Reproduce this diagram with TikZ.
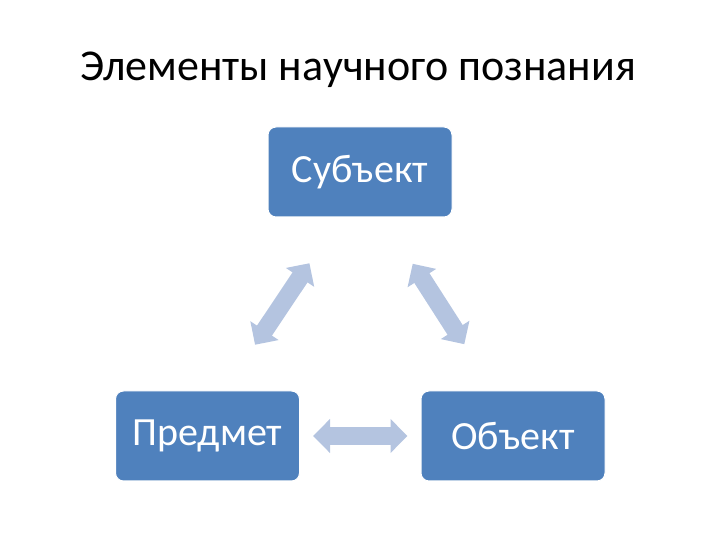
\documentclass[tikz,border=0pt]{standalone}
\usepackage{fontspec}
\setmainfont{Carlito}
\usetikzlibrary{arrows.meta}
\definecolor{boxblue}{RGB}{79,129,189}
\definecolor{arrowblue}{RGB}{180,196,224}
\begin{document}
\begin{tikzpicture}[
    x=1pt, y=1pt,
    % styles
    elem/.style={rectangle, rounded corners=8pt, fill=boxblue, draw=white, line width=1pt,
        minimum width=184pt, minimum height=90pt, text=white, font=\fontsize{40}{44}\selectfont},
    title/.style={font=\fontsize{44}{50}\selectfont, text=black},
    biarrow/.style={draw=arrowblue, line width=18pt,
        {Triangle[width=33pt,length=17pt]}-{Triangle[width=33pt,length=17pt]}}
]
    \useasboundingbox (0,0) rectangle (720,540);

    % --- title ---
    \node[title] (head) at (358,470) {Элементы научного познания};

    % --- three elements ---
    \node[elem] (subj) at (360,368) {Субъект};
    \node[elem] (pred) at (207.5,104) {Предмет};
    \node[elem] (obj) at (513,104) {Объект};

    % --- connectors ---
    \draw[biarrow, shorten <=13pt, shorten >=13pt] (pred.east) -- (obj.west);
    \draw[biarrow, shorten <=55pt, shorten >=55pt] ([xshift=17pt]pred.north) -- ([xshift=-20pt]subj.south);
    \draw[biarrow, shorten <=55pt, shorten >=55pt] ([xshift=-19pt]obj.north) -- ([xshift=23pt]subj.south);

\end{tikzpicture}
\end{document}
